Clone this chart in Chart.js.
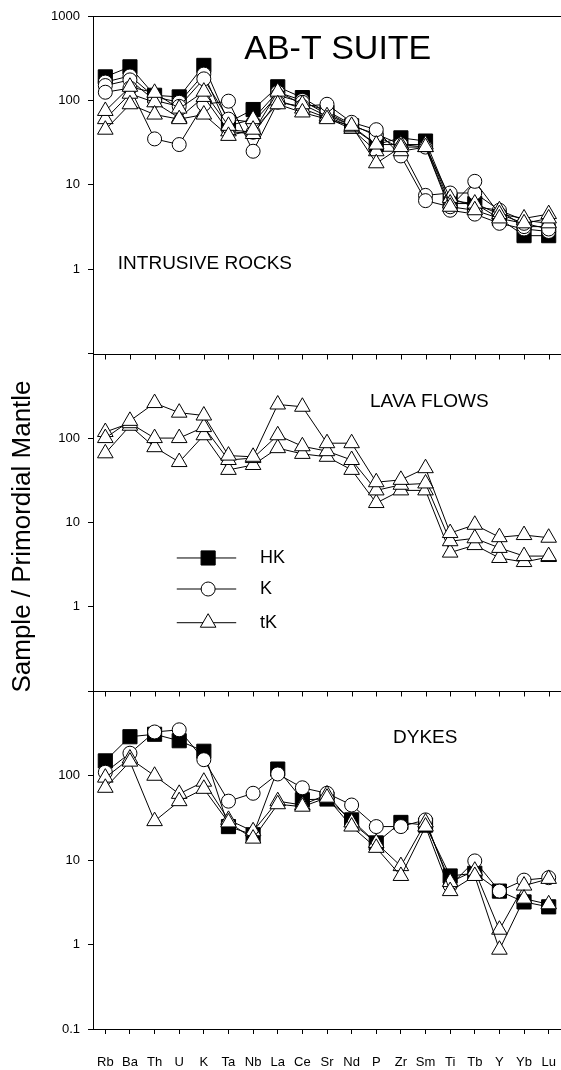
<!DOCTYPE html>
<html>
<head>
<meta charset="utf-8">
<script src="https://cdn.jsdelivr.net/npm/chart.js@4.4.1/dist/chart.umd.min.js"></script>
<style>
  html, body { margin: 0; padding: 0; background: #fff; }
  #wrap { width: 561px; height: 1070px; }
</style>
</head>
<body>
<div id="wrap"><canvas id="spider"></canvas></div>
<script>
// elements along the x axis
const elements = ['Rb', 'Ba', 'Th', 'U', 'K', 'Ta', 'Nb', 'La', 'Ce', 'Sr', 'Nd', 'P', 'Zr', 'Sm', 'Ti', 'Tb', 'Y', 'Yb', 'Lu'];

// decades shown on every panel
const decadeTicks = [0.1, 1, 10, 100, 1000];

// Intrusive rocks (sample / primordial mantle)
const intrusiveHK  = [190, 250, 115, 110, 260, 55, 78, 145, 108, 72, 50, 30, 36, 33, 6.5, 6, 4, 2.5, 2.5];
const intrusiveK1  = [125, 140, 35, 30, 90, 98, 25, 95, 85, 90, 55, 45, 22, 6.5, 5.5, 11, 4.5, 3.5, 3];
const intrusiveK2  = [150, 175, 100, 85, 180, 60, 55, 115, 95, 75, 52, 38, 27, 7.5, 8, 8, 5, 3.2, 3.2];
const intrusiveK3  = [165, 195, 110, 95, 205, 45, 42, 125, 100, 68, 50, 40, 30, 28, 5, 4.5, 3.5, 3, 2.8];
const intrusiveTK1 = [45, 90, 68, 60, 68, 38, 45, 90, 72, 60, 50, 18, 28, 28, 5.5, 5, 4, 3.5, 4];
const intrusiveTK2 = [75, 145, 123, 80, 127, 50, 60, 127, 90, 65, 48, 30, 30, 30, 6, 6, 4.5, 4, 4.5];
const intrusiveTK3 = [60, 120, 95, 62, 110, 43, 40, 100, 80, 62, 46, 25, 25, 28, 7, 5.5, 5, 3.8, 3.5];

// Lava flows
const lavaTK1 = [100, 160, 260, 200, 185, 62, 60, 250, 235, 87, 87, 30, 32, 44, 7.5, 9.4, 6.7, 7.1, 6.6];
const lavaTK2 = [118, 150, 100, 100, 135, 55, 58, 108, 80, 70, 55, 24, 28, 29, 6, 6.5, 5, 4, 4];
const lavaTK3 = [66, 140, 78, 52, 108, 42, 48, 76, 65, 60, 42, 17, 24, 24, 4.4, 5.4, 3.8, 3.4, 3.9];

// Dykes
const dykeHK  = [150, 290, 310, 260, 195, 25, 20, 120, 52, 53, 30, 16, 28, 26, 6.5, 7, 4.3, 3.2, 2.8];
const dykeK   = [110, 185, 330, 350, 155, 50, 62, 105, 72, 62, 45, 25, 25, 30, 5, 9.8, 4.3, 5.8, 6.2];
const dykeTK1 = [72, 147, 29, 50, 70, 28, 18, 46, 43, 55, 25, 14, 6.5, 25, 4.3, 6.5, 0.87, 3.5, 3];
const dykeTK2 = [95, 160, 100, 61, 85, 30, 22, 50, 45, 60, 28, 16, 8.5, 28, 5.5, 7.5, 1.5, 5, 6];

const groups = ['HK', 'K', 'tK'];

const font = "'Liberation Sans', Arial, Helvetica, sans-serif";
Chart.defaults.font.family = font;
Chart.defaults.color = '#000';

// marker per group
const groupStyle = {
    HK: { pointStyle: 'rect', pointRadius: 10, pointBackgroundColor: '#000' },
    K:  { pointStyle: 'circle', pointRadius: 7, pointBackgroundColor: '#fff' },
    tK: { pointStyle: 'triangle', pointRadius: 9, pointBackgroundColor: '#fff' }
};

function series(group, data, axis) {
    return Object.assign({
        label: group,
        data: data,
        yAxisID: axis,
        borderColor: '#000',
        borderWidth: 1,
        pointBorderColor: '#000',
        pointBorderWidth: 1,
        pointHoverRadius: 0,
        tension: 0,
        fill: false
    }, groupStyle[group]);
}

// first entries are drawn on top
const datasets = [
    series('tK', intrusiveTK1, 'yTop'),
    series('tK', intrusiveTK2, 'yTop'),
    series('tK', intrusiveTK3, 'yTop'),
    series('K', intrusiveK1, 'yTop'),
    series('K', intrusiveK2, 'yTop'),
    series('K', intrusiveK3, 'yTop'),
    series('HK', intrusiveHK, 'yTop'),
    series('tK', lavaTK1, 'yMid'),
    series('tK', lavaTK2, 'yMid'),
    series('tK', lavaTK3, 'yMid'),
    series('tK', dykeTK1, 'yBot'),
    series('tK', dykeTK2, 'yBot'),
    series('K', dykeK, 'yBot'),
    series('HK', dykeHK, 'yBot')
];

const noPadding = () => ({ left: 0, top: 0, right: 0, bottom: 0 });

function panelAxis(hideTop, hideBottom) {
    return {
        type: 'logarithmic',
        position: 'left',
        stack: 'panels',
        min: 0.1,
        max: 1000,
        afterBuildTicks: s => { s.ticks = decadeTicks.map(v => ({ value: v })); },
        afterFit: s => { s.width = 93; s.getPadding = noPadding; },
        ticks: {
            font: { size: 13 },
            padding: 8,
            callback: v => {
                if ((v === 1000 && hideTop) || (v === 0.1 && hideBottom)) return '';
                return String(v);
            }
        },
        grid: { drawOnChartArea: false, tickLength: 5, color: '#000' },
        border: { color: '#000', width: 1 }
    };
}

// panel labels, placed on each panel's own scale
const panelTitles = [
    { text: 'AB-T SUITE', axis: 'yTop', value: 400, frac: 0.523, align: 'center', size: 34 },
    { text: 'INTRUSIVE ROCKS', axis: 'yTop', value: 1.15, frac: 0.053, align: 'left', size: 19 },
    { text: 'LAVA FLOWS', axis: 'yMid', value: 266, frac: 0.592, align: 'left', size: 19 },
    { text: 'DYKES', axis: 'yBot', value: 284, frac: 0.641, align: 'left', size: 19 }
];

const yTitle = 'Sample / Primordial Mantle';
const legendRows = [3.8, 1.63, 0.65];

const panelDecor = {
    id: 'panelDecor',
    afterDraw(chart) {
        const { ctx, chartArea, scales } = chart;
        const w = chartArea.right - chartArea.left;
        ctx.save();
        ctx.strokeStyle = '#000';
        ctx.lineWidth = 1;

        // frame top and panel separators with small ticks
        ['yTop', 'yMid', 'yBot'].forEach((id, i) => {
            const y = Math.round(scales[id].top) + 0.5;
            ctx.beginPath();
            ctx.moveTo(chartArea.left, y);
            ctx.lineTo(chartArea.right, y);
            if (i > 0) {
                elements.forEach((_, k) => {
                    const px = Math.round(scales.x.getPixelForValue(k)) + 0.5;
                    ctx.moveTo(px, y);
                    ctx.lineTo(px, y + 5);
                });
            }
            ctx.stroke();
        });

        // panel labels
        ctx.fillStyle = '#000';
        ctx.textBaseline = 'middle';
        panelTitles.forEach(t => {
            ctx.font = t.size + 'px ' + font;
            ctx.textAlign = t.align;
            ctx.fillText(t.text, chartArea.left + t.frac * w, scales[t.axis].getPixelForValue(t.value));
        });

        // shared y title, a little below the middle panel's centre
        ctx.save();
        ctx.translate(23, (scales.yMid.top + scales.yMid.bottom) / 2 + 14);
        ctx.rotate(-Math.PI / 2);
        ctx.font = '26px ' + font;
        ctx.textAlign = 'center';
        ctx.fillText(yTitle, 0, 0);
        ctx.restore();

        // legend in the middle panel
        const x0 = chartArea.left + 0.179 * w;
        const x1 = chartArea.left + 0.306 * w;
        const xm = chartArea.left + 0.246 * w;
        const xt = chartArea.left + 0.357 * w;
        ctx.font = '18px ' + font;
        ctx.textAlign = 'left';
        groups.forEach((g, i) => {
            const y = scales.yMid.getPixelForValue(legendRows[i]);
            const st = groupStyle[g];
            ctx.beginPath();
            ctx.moveTo(x0, y);
            ctx.lineTo(x1, y);
            ctx.stroke();
            ctx.fillStyle = st.pointBackgroundColor;
            Chart.helpers.drawPoint(ctx, {
                pointStyle: st.pointStyle, radius: st.pointRadius, rotation: 0, borderWidth: 1
            }, xm, y);
            ctx.fillStyle = '#000';
            ctx.fillText(g, xt, y);
        });
        ctx.restore();
    }
};

new Chart(document.getElementById('spider'), {
    type: 'line',
    data: { labels: elements, datasets: datasets },
    options: {
        responsive: true,
        maintainAspectRatio: false,
        animation: false,
        layout: { autoPadding: false, padding: { top: 16, right: 0, left: 0, bottom: 0 } },
        plugins: {
            legend: { display: false },
            tooltip: { enabled: false }
        },
        scales: {
            x: {
                type: 'category',
                offset: true,
                afterFit: s => { s.height = 41; s.getPadding = noPadding; },
                ticks: { font: { size: 13 }, padding: 21, autoSkip: false, maxRotation: 0 },
                grid: { drawOnChartArea: false, tickLength: 5, color: '#000' },
                border: { color: '#000', width: 1 }
            },
            // stacked axes: first defined sits at the bottom
            yBot: panelAxis(true, false),
            yMid: panelAxis(true, true),
            yTop: panelAxis(false, true)
        }
    },
    plugins: [panelDecor]
});
</script>
</body>
</html>
